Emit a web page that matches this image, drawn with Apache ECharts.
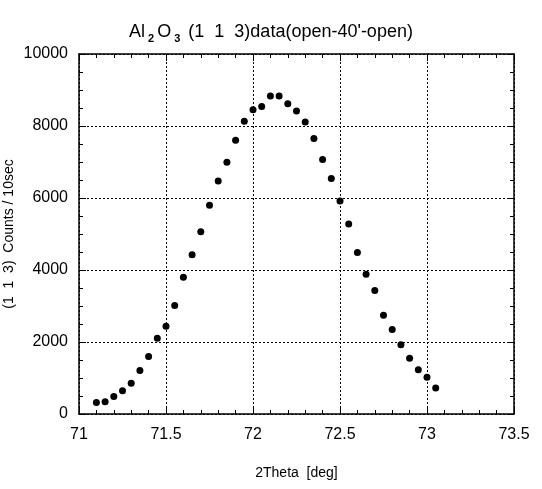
<!DOCTYPE html>
<html><head><meta charset="utf-8">
<script src="https://cdn.jsdelivr.net/npm/echarts@6/dist/echarts.min.js"></script>
<style>html,body{margin:0;padding:0;background:#fff}#c{width:542px;height:489px}</style>
</head><body><div id="c"></div>
<script>
// 2Theta positions (deg)
const twoTheta = [71.10, 71.15, 71.20, 71.25, 71.30, 71.35, 71.40, 71.45, 71.50, 71.55,
                  71.60, 71.65, 71.70, 71.75, 71.80, 71.85, 71.90, 71.95, 72.00, 72.05,
                  72.10, 72.15, 72.20, 72.25, 72.30, 72.35, 72.40, 72.45, 72.50, 72.55,
                  72.60, 72.65, 72.70, 72.75, 72.80, 72.85, 72.90, 72.95, 73.00, 73.05];
// (1 1 3) counts per 10 sec
const counts = [320, 340, 485, 645, 855, 1205, 1600, 2105, 2435, 3015,
                3800, 4425, 5060, 5800, 6475, 6995, 7605, 8135, 8450, 8540,
                8835, 8835, 8615, 8420, 8110, 7650, 7070, 6545, 5920, 5280,
                4485, 3885, 3430, 2740, 2345, 1925, 1550, 1230, 1020, 720];
const xTickLabels = ['71', '71.5', '72', '72.5', '73', '73.5'];
const yTickLabels = ['0', '2000', '4000', '6000', '8000', '10000'];

const FONT = "'Liberation Sans', Arial, sans-serif";
const black = '#000';

const chart = echarts.init(document.getElementById('c'), null, {renderer: 'canvas'});

function axisCommon(extra) {
  return Object.assign({
    axisLine: {show: true, onZero: false, lineStyle: {color: black, width: 1.5}},
    axisTick: {show: true, inside: true, length: 7, lineStyle: {color: black, width: 1}},
    splitLine: {show: false}
  }, extra);
}
const gridLine = {show: true, lineStyle: {color: black, width: 1, type: [2, 2]}};

const xMin = parseFloat(xTickLabels[0]), xMax = parseFloat(xTickLabels[xTickLabels.length - 1]);
const yMin = parseFloat(yTickLabels[0]), yMax = parseFloat(yTickLabels[yTickLabels.length - 1]);
const xStep = parseFloat(xTickLabels[1]) - xMin, yStep = parseFloat(yTickLabels[1]) - yMin;

chart.setOption({
  animation: false,
  backgroundColor: '#fff',
  title: {
    left: 'center', top: 15,
    text: "{m|Al}{s|2}{m|O}{s|3}{m| (1  1  3)data(open-40'-open)}",
    textStyle: {
      rich: {
        m: {fontFamily: FONT, fontSize: 18, color: black, fontWeight: 'normal'},
        s: {fontFamily: FONT, fontSize: 11, color: black, fontWeight: 'bold', padding: [13, 3, 0, 3]}
      }
    }
  },
  grid: {left: 79, right: 28, top: 54, bottom: 75, containLabel: false, outerBoundsMode: 'none'},
  xAxis: [
    axisCommon({
      type: 'value', position: 'bottom', min: xMin, max: xMax, interval: xStep,
      minorTick: {show: true, splitNumber: 5, length: 4, lineStyle: {color: black, width: 1}},
      splitLine: gridLine,
      axisLabel: {color: black, fontFamily: FONT, fontSize: 16, margin: 13,
        formatter: v => xTickLabels[Math.round((v - xMin) / xStep)]},
      name: '2Theta  [deg]', nameLocation: 'middle', nameGap: 52, nameMoveOverlap: false,
      nameTextStyle: {color: black, fontFamily: FONT, fontSize: 14}
    }),
    axisCommon({
      type: 'value', position: 'top', min: xMin, max: xMax, interval: xStep,
      minorTick: {show: true, splitNumber: 5, length: 4, lineStyle: {color: black, width: 1}},
      axisLabel: {show: false}
    })
  ],
  yAxis: [
    axisCommon({
      type: 'value', position: 'left', min: yMin, max: yMax, interval: yStep,
      minorTick: {show: true, splitNumber: 4, length: 4, lineStyle: {color: black, width: 1}},
      splitLine: gridLine,
      axisLabel: {color: black, fontFamily: FONT, fontSize: 16, margin: 11,
        formatter: v => yTickLabels[Math.round((v - yMin) / yStep)]},
      name: '(1  1  3)  Counts / 10sec', nameLocation: 'middle', nameGap: 63, nameRotate: 90,
      nameMoveOverlap: false,
      nameTextStyle: {color: black, fontFamily: FONT, fontSize: 14}
    }),
    axisCommon({
      type: 'value', position: 'right', min: yMin, max: yMax, interval: yStep,
      minorTick: {show: true, splitNumber: 4, length: 4, lineStyle: {color: black, width: 1}},
      axisLabel: {show: false}
    })
  ],
  series: [{
    type: 'scatter', xAxisIndex: 0, yAxisIndex: 0,
    symbol: 'circle', symbolSize: 7,
    itemStyle: {color: black, opacity: 1},
    data: twoTheta.map((x, i) => [x, counts[i]])
  }]
});
</script>
</body></html>
